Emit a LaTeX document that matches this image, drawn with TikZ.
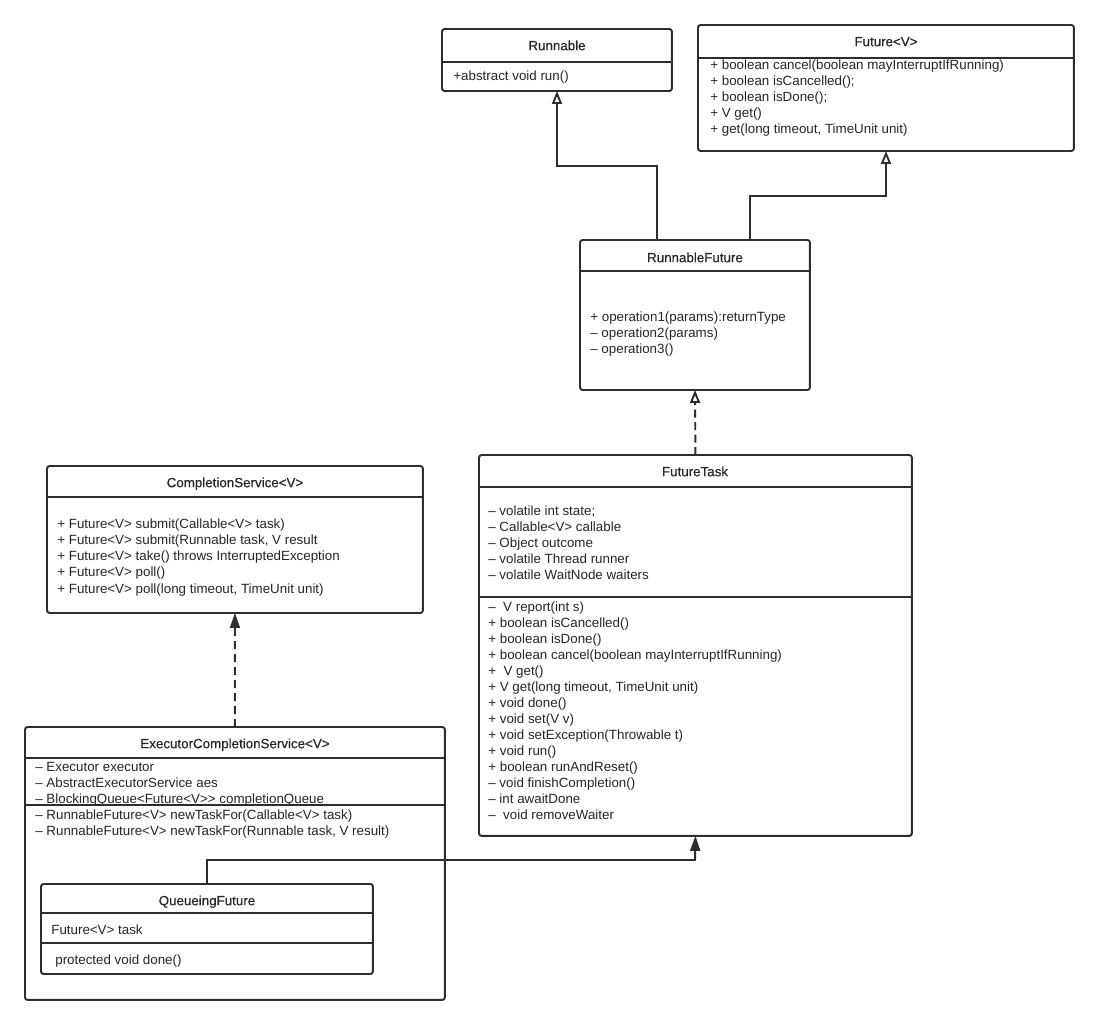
\documentclass[tikz,border=0pt]{standalone}
\usepackage{fontspec}
\setmainfont{Liberation Sans}
\newfontfamily\headfont{Liberation Sans}[FakeBold=0.35]
\usetikzlibrary{positioning,arrows.meta,calc}
\definecolor{uline}{HTML}{2E2E2E}
\definecolor{utext}{HTML}{262626}

\begin{document}
\begin{tikzpicture}[x=0.02cm, y=-0.02cm, font=\fontsize{7.6}{9}\selectfont,
  cls/.style={draw=uline, line width=1.1pt, rounded corners=1.5pt, inner sep=0pt, outer sep=0pt, anchor=north west},
  rule/.style={draw=uline, line width=1.1pt},
  title/.style={text=utext, inner sep=0pt, text height=6pt, text depth=1.8pt, font=\fontsize{7.6}{9}\headfont},
  member/.style={text=utext, inner sep=0pt, text height=6pt, text depth=1.8pt, anchor=west},
  realize/.style={uline, line width=1.1pt, -{Triangle[open, length=2.6mm, width=2mm]}},
  realizedash/.style={realize, dash pattern=on 1.6mm off 0.9mm},
  extend/.style={uline, line width=1.1pt, -{Triangle[length=3mm, width=2mm]}},
  usesdash/.style={extend, dash pattern=on 1.6mm off 1mm}]
\fill[white] (0,0) rectangle (1099,1025);
\useasboundingbox (0,0) rectangle (1099,1025);

% class boxes
\node[cls, minimum width=4.6cm, minimum height=1.24cm] (runnable) at (442,29) {};
\node[cls, minimum width=7.52cm, minimum height=2.52cm] (future) at (698,25) {};
\node[cls, minimum width=4.6cm, minimum height=3.0cm] (runfut) at (580,240) {};
\node[cls, minimum width=8.66cm, minimum height=7.62cm] (futtask) at (479,455) {};
\node[cls, minimum width=7.52cm, minimum height=2.94cm] (cs) at (47,466) {};
\node[cls, minimum width=8.4cm, minimum height=5.46cm] (ecs) at (25,727) {};
\node[cls, minimum width=6.64cm, minimum height=1.8cm] (qf) at (41,884) {};

% compartment rules
\draw[rule] ($(runnable.north west)+(0,33)$) -- ($(runnable.north east)+(0,33)$);
\draw[rule] ($(future.north west)+(0,33)$) -- ($(future.north east)+(0,33)$);
\draw[rule] ($(runfut.north west)+(0,31)$) -- ($(runfut.north east)+(0,31)$);
\draw[rule] ($(futtask.north west)+(0,32)$) -- ($(futtask.north east)+(0,32)$);
\draw[rule] ($(futtask.north west)+(0,142)$) -- ($(futtask.north east)+(0,142)$);
\draw[rule] ($(cs.north west)+(0,31)$) -- ($(cs.north east)+(0,31)$);
\draw[rule] ($(ecs.north west)+(0,31)$) -- ($(ecs.north east)+(0,31)$);
\draw[rule] ($(ecs.north west)+(0,78)$) -- ($(ecs.north east)+(0,78)$);
\draw[rule] ($(qf.north west)+(0,29)$) -- ($(qf.north east)+(0,29)$);
\draw[rule] ($(qf.north west)+(0,59)$) -- ($(qf.north east)+(0,59)$);

% titles
\node[title] (runnable-t) at (557,46.5) {Runnable};
\node[title] (future-t) at (886,42.5) {Future<V>};
\node[title] (runfut-t) at (695,258.5) {RunnableFuture};
\node[title] (futtask-t) at (695,472.5) {FutureTask};
\node[title] (cs-t) at (235,483.5) {CompletionService<V>};
\node[title] (ecs-t) at (235,744.5) {ExecutorCompletionService<V>};
\node[title] (qf-t) at (207,901.5) {QueueingFuture};

% members
\node[member] (runnable-m) at (453,77) {+abstract void run()};
\foreach \t [count=\i from 0] in {+ boolean cancel(boolean mayInterruptIfRunning), + boolean isCancelled();,
    + boolean isDone();, + V get(), {+ get(long timeout, TimeUnit unit)}}
  \node[member] (future-m\i) at (710,66+16*\i) {\t};
\foreach \t [count=\i from 0] in {+ operation1(params):returnType, – operation2(params), – operation3()}
  \node[member] (runfut-m\i) at (590,317.5+16*\i) {\t};
\foreach \t [count=\i from 0] in {– volatile int state;, – Callable<V> callable, – Object outcome,
    – volatile Thread runner, – volatile WaitNode waiters}
  \node[member] (futtask-a\i) at (488,511.5+16*\i) {\t};
\foreach \t [count=\i from 0] in {–~ V report(int s), + boolean isCancelled(), + boolean isDone(),
    + boolean cancel(boolean mayInterruptIfRunning), +~ V get(), {+ V get(long timeout, TimeUnit unit)},
    + void done(), + void set(V v), + void setException(Throwable t), + void run(),
    + boolean runAndReset(), – void finishCompletion(), – int awaitDone, –~ void removeWaiter}
  \node[member] (futtask-m\i) at (488,607.5+16*\i) {\t};
\foreach \t [count=\i from 0] in {+ Future<V> submit(Callable<V> task), {+ Future<V> submit(Runnable task, V result},
    + Future<V> take() throws InterruptedException, + Future<V> poll(),
    {+ Future<V> poll(long timeout, TimeUnit unit)}}
  \node[member] (cs-m\i) at (57,524.5+16.25*\i) {\t};
\foreach \t [count=\i from 0] in {– Executor executor, – AbstractExecutorService aes,
    – BlockingQueue<Future<V>{}> completionQueue}
  \node[member] (ecs-a\i) at (35,767.5+16*\i) {\t};
\foreach \t [count=\i from 0] in {– RunnableFuture<V> newTaskFor(Callable<V> task),
    {– RunnableFuture<V> newTaskFor(Runnable task, V result)}}
  \node[member] (ecs-m\i) at (35,815.5+16*\i) {\t};
\node[member] (qf-a) at (51,931) {Future<V> task};
\node[member] (qf-m) at (55,961) {protected void done()};

% relations
\coordinate (kinkR) at (557,166);
\coordinate (kinkF) at (886,196);
\coordinate (kinkQ) at (695,860);
\draw[realize] ($(runfut.north west)+(77,0)$) |- (kinkR) -- (runnable.south -| kinkR);
\draw[realize] ($(runfut.north west)+(170,0)$) |- (kinkF) -- (future.south -| kinkF);
\draw[realizedash] (futtask.north) -- (runfut.south);
\draw[usesdash] (ecs.north) -- (cs.south);
\draw[extend] (qf.north) |- (kinkQ) -- (futtask.south);
\end{tikzpicture}
\end{document}
